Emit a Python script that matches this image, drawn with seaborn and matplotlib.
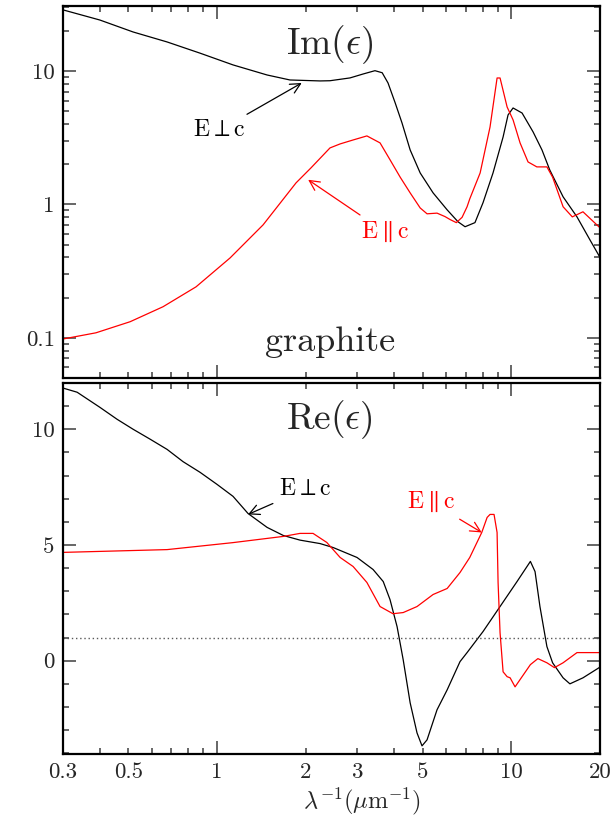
import numpy as np
import pandas as pd
import matplotlib
matplotlib.use('Agg')
import matplotlib.pyplot as plt
import seaborn as sns
from matplotlib.ticker import FixedLocator, FixedFormatter, NullFormatter

# Im(eps), E perp c (black)
im_perp_x = [0.3, 0.4, 0.519, 0.677, 0.876, 1.134, 1.48, 1.77, 2.24, 2.42, 2.83, 3.14, 3.44, 3.64,
             3.81, 4.03, 4.25, 4.53, 4.90, 5.42, 6.05, 6.59, 6.96, 7.52, 8.01, 8.66, 9.37, 9.74,
             10.13, 10.87, 11.85, 12.7, 13.5, 14.98, 16.7, 18.5, 20]
im_perp_y = [28.7, 24.1, 19.6, 16.5, 13.6, 11.1, 9.33, 8.56, 8.42, 8.45, 8.87, 9.5, 10.05, 9.7,
             8.13, 5.76, 4.08, 2.56, 1.72, 1.22, 0.91, 0.74, 0.68, 0.73, 1.03, 1.72, 3.2, 4.68,
             5.28, 4.84, 3.49, 2.56, 1.81, 1.14, 0.806, 0.54, 0.40]

# Im(eps), E || c (red)
im_par_x = [0.3, 0.388, 0.507, 0.656, 0.849, 1.108, 1.434, 1.856, 2.087, 2.42, 2.62, 2.90, 3.23,
            3.58, 3.87, 4.19, 4.53, 4.90, 5.17, 5.59, 5.95, 6.19, 6.5, 6.8, 7.07, 7.22, 7.83,
            8.46, 8.94, 9.15, 9.67, 10.13, 10.7, 11.39, 12.2, 13.2, 13.8, 14.98, 16.1, 17.5, 20]
im_par_y = [0.098, 0.109, 0.132, 0.171, 0.241, 0.397, 0.702, 1.45, 1.88, 2.65, 2.84, 3.04, 3.26,
            2.89, 2.16, 1.6, 1.22, 0.94, 0.85, 0.86, 0.81, 0.77, 0.73, 0.80, 0.96, 1.1, 1.72,
            3.8, 8.86, 8.86, 5.37, 4.3, 2.89, 2.08, 1.91, 1.91, 1.6, 0.96, 0.806, 0.88, 0.667]

# Re(eps), E perp c (black)
re_perp_x = [0.3, 0.335, 0.4, 0.458, 0.519, 0.593, 0.677, 0.767, 0.876, 1.0, 1.134, 1.275, 1.48,
             1.68, 1.914, 2.24, 2.48, 2.99, 3.39, 3.67, 3.87, 4.09, 4.29, 4.53, 4.78, 4.97, 5.17,
             5.59, 6.05, 6.69, 7.07, 8.01, 9.15, 10.45, 11.6, 12.03, 12.5, 13.2, 13.8, 14.98,
             15.8, 17.5, 19.86, 20]
re_perp_y = [11.78, 11.6, 10.95, 10.43, 10.0, 9.57, 9.13, 8.6, 8.14, 7.62, 7.1, 6.36, 5.76,
             5.41, 5.21, 5.06, 4.89, 4.46, 3.94, 3.42, 2.64, 1.47, 0.04, -1.82, -3.12, -3.68,
             -3.42, -2.12, -1.26, -0.04, 0.35, 1.26, 2.34, 3.42, 4.29, 3.85, 2.34, 0.61, -0.09,
             -0.74, -1.0, -0.74, -0.30, -0.25]

# Re(eps), E || c (red)
re_par_x = [0.3, 0.677, 1.13, 1.68, 1.914, 2.12, 2.36, 2.62, 2.90, 3.23, 3.58, 3.96, 4.29, 4.78,
            5.42, 6.05, 6.69, 7.22, 7.93, 8.27, 8.46, 8.73, 8.94, 9.01, 9.15, 9.37, 9.67, 9.9,
            10.29, 10.87, 11.6, 12.3, 13.2, 14.0, 14.98, 16.7, 18.5, 20]
re_par_y = [4.68, 4.8, 5.1, 5.37, 5.5, 5.5, 5.11, 4.46, 4.07, 3.38, 2.34, 2.03, 2.08, 2.34,
            2.86, 3.12, 3.81, 4.46, 5.54, 6.19, 6.32, 6.32, 5.54, 3.38, 1.21, -0.48, -0.69, -0.74,
            -1.13, -0.69, -0.17, 0.09, -0.09, -0.3, -0.09, 0.35, 0.35, 0.35]

x_minor = [0.3, 0.4, 0.5, 0.6, 0.7, 0.8, 0.9, 2, 3, 4, 5, 6, 7, 8, 9, 20]
x_minor_lab = ['0.3', '', '0.5', '', '', '', '', '2', '3', '', '5', '', '', '', '', '20']

sns.set_style('ticks')
plt.rcParams['font.family'] = 'serif'
plt.rcParams['font.serif'] = ['cmr10', 'DejaVu Serif']
plt.rcParams['mathtext.fontset'] = 'cm'
plt.rcParams['axes.unicode_minus'] = False

fig = plt.figure(figsize=(6.16, 8.19), dpi=100)
ax1 = fig.add_axes([0.1023, 0.5385, 0.8718, 0.4542])
ax2 = fig.add_axes([0.1023, 0.0794, 0.8718, 0.4530])

lw = 0.9
sns.lineplot(x=im_perp_x, y=im_perp_y, ax=ax1, color='black', lw=lw, sort=False, estimator=None)
sns.lineplot(x=im_par_x, y=im_par_y, ax=ax1, color='red', lw=lw, sort=False, estimator=None)
sns.lineplot(x=re_perp_x, y=re_perp_y, ax=ax2, color='black', lw=lw, sort=False, estimator=None)
sns.lineplot(x=re_par_x, y=re_par_y, ax=ax2, color='red', lw=lw, sort=False, estimator=None)
ax2.axhline(1, color='0.35', lw=1.0, ls=(0, (1, 2)))

for ax in (ax1, ax2):
    ax.set_xscale('log')
    ax.set_xlim(0.3, 20)
    ax.xaxis.set_major_locator(FixedLocator([1, 10]))
    ax.xaxis.set_minor_locator(FixedLocator(x_minor))
    ax.tick_params(which='both', direction='in', top=True, right=True, labelsize=16.5,
                   width=1.2, color='0.3')
    ax.tick_params(which='major', length=9.4)
    ax.tick_params(which='minor', length=4.4)
    ax.tick_params(axis='y', which='both', pad=6)
    for s in ax.spines.values():
        s.set_linewidth(1.6)
        s.set_color('black')
    ax.set_xlabel('')
    ax.set_ylabel('')

ax2.xaxis.set_major_formatter(FixedFormatter(['1', '10']))
ax2.xaxis.set_minor_formatter(FixedFormatter(x_minor_lab))
ax1.xaxis.set_major_formatter(NullFormatter())
ax1.xaxis.set_minor_formatter(NullFormatter())
ax2.tick_params(axis='x', which='both', pad=6)

ax1.set_yscale('log')
ax1.set_ylim(0.05, 30.7)
ax1.yaxis.set_major_locator(FixedLocator([0.1, 1, 10]))
ax1.yaxis.set_major_formatter(FixedFormatter(['0.1', '1', '10']))
y_minor = [0.05, 0.06, 0.07, 0.08, 0.09, 0.2, 0.3, 0.4, 0.5, 0.6, 0.7, 0.8, 0.9,
           2, 3, 4, 5, 6, 7, 8, 9, 20, 30]
ax1.yaxis.set_minor_locator(FixedLocator(y_minor))
ax1.yaxis.set_minor_formatter(NullFormatter())

ax2.set_ylim(-4.03, 12.0)
ax2.yaxis.set_major_locator(FixedLocator([0, 5, 10]))
ax2.yaxis.set_major_formatter(FixedFormatter(['0', '5', '10']))
ax2.yaxis.set_minor_locator(FixedLocator(list(range(-4, 13))))
ax2.yaxis.set_minor_formatter(NullFormatter())

ax2.set_xlabel(r'$\lambda^{-1}(\mu{\rm m}^{-1})$', fontsize=17.5)
ax2.xaxis.set_label_coords(0.557, -0.084)

# panel labels
ax1.text(0.497, 0.895, r'${\rm Im}(\epsilon)$', transform=ax1.transAxes, fontsize=27,
         ha='center', va='center')
ax1.text(0.497, 0.097, 'graphite', transform=ax1.transAxes, fontsize=26,
         ha='center', va='center')
ax2.text(0.497, 0.90, r'${\rm Re}(\epsilon)$', transform=ax2.transAxes, fontsize=27,
         ha='center', va='center')

arrow_k = dict(arrowstyle='->', lw=0.9, mutation_scale=18, shrinkA=2, shrinkB=0)
ax1.annotate(r'E$\perp$c', xy=(1.94, 8.13), xytext=(1.02, 3.61), fontsize=17,
             ha='center', va='center', color='black', arrowprops=dict(color='black', **arrow_k))
ax1.annotate(r'E$\parallel$c', xy=(2.04, 1.53), xytext=(3.72, 0.622), fontsize=17,
             ha='center', va='center', color='red', arrowprops=dict(color='red', **arrow_k))
ax2.annotate(r'E$\perp$c', xy=(1.275, 6.32), xytext=(1.99, 7.4), fontsize=17,
             ha='center', va='center', color='black', arrowprops=dict(color='black', **arrow_k))
ax2.annotate(r'E$\parallel$c', xy=(7.93, 5.54), xytext=(5.36, 6.84), fontsize=17,
             ha='center', va='center', color='red', arrowprops=dict(color='red', **arrow_k))

fig.savefig('out.png', dpi=100)
